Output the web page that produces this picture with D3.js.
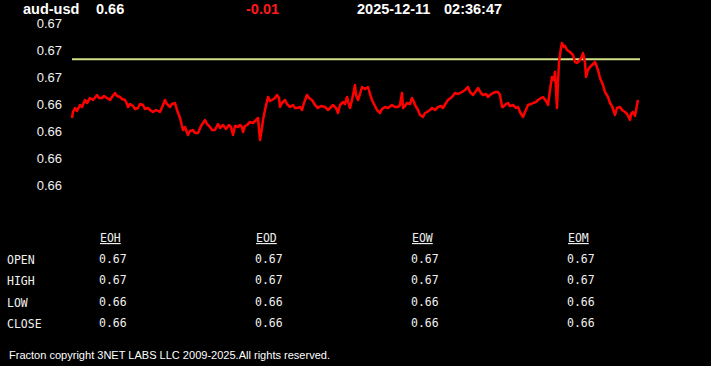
<!DOCTYPE html>
<html>
<head>
<meta charset="utf-8">
<script src="https://cdn.jsdelivr.net/npm/d3@7"></script>
<style>
  html, body { margin: 0; padding: 0; background: #000; }
  svg { display: block; }
</style>
</head>
<body>
<div id="vis"></div>
<script>
const FRAME_WIDTH = 711;
const FRAME_HEIGHT = 366;

// header
const SYMBOL = "aud-usd";
const LAST = "0.66";
const CHANGE = "-0.01";
const STAMP_DATE = "2025-12-11";
const STAMP_TIME = "02:36:47";

// y axis ticks (labels are rounded to 2 decimals)
const Y_TICKS = [0.6685, 0.66715, 0.6658, 0.66445, 0.6631, 0.66175, 0.6604];

// price series (sample number, price)
const SAMPLE_IDX = [0,1,3,5,8,10,13,15,18,21,25,27,30,32,35,38,40,43,45,48,50,53,55,56,58,61,63,66,68,71,73,76,78,81,84,88,91,93,95,98,100,103,105,108,110,111,113,116,118,121,123,126,129,133,135,138,140,143,146,148,151,154,157,159,161,163,166,168,170,171,173,175,178,181,183,186,188,190,191,193,196,198,200,203,205,207,208,210,213,215,218,221,223,225,228,230,232,235,237,240,243,246,249,253,256,258,261,264,266,268,271,273,275,277,278,280,283,284,286,288,290,293,296,298,300,303,305,308,310,313,316,320,323,326,328,330,331,333,335,338,340,342,343,346,348,351,353,355,358,360,363,366,369,371,374,376,380,383,386,390,393,396,398,401,404,406,409,411,414,416,418,421,424,426,428,430,431,434,436,438,441,444,446,448,451,453,456,459,461,464,466,469,471,474,476,478,480,482,483,485,486,487,489,490,492,493,495,498,501,503,505,508,510,511,513,514,516,518,520,523,526,528,531,533,536,538,540,543,545,548,550,553,555,558,559,561,563,565,566];
const PRICES = [0.6637,0.6640,0.6642,0.66405,0.66435,0.66425,0.6646,0.66445,0.6647,0.6646,0.66485,0.6647,0.6647,0.6648,0.6647,0.6646,0.66475,0.66495,0.6648,0.66475,0.66465,0.6646,0.6644,0.66425,0.6644,0.6643,0.66415,0.6642,0.6644,0.66435,0.66415,0.6642,0.6641,0.6640,0.6641,0.6640,0.66435,0.6646,0.6644,0.66425,0.6644,0.66445,0.6641,0.6637,0.6633,0.6631,0.66325,0.66285,0.66305,0.6631,0.66295,0.66295,0.6633,0.6636,0.6634,0.66325,0.6631,0.6631,0.6634,0.6632,0.66335,0.66315,0.66335,0.66325,0.66285,0.6633,0.66325,0.66335,0.66325,0.6630,0.6633,0.66335,0.6635,0.66345,0.66355,0.6637,0.6626,0.6632,0.6636,0.6641,0.66475,0.66455,0.6646,0.6647,0.66485,0.6647,0.66425,0.66445,0.6646,0.6644,0.66425,0.66435,0.6642,0.6642,0.66425,0.6641,0.66445,0.66485,0.6647,0.6646,0.66435,0.6642,0.6643,0.66425,0.6641,0.6642,0.66435,0.6642,0.66395,0.66435,0.6645,0.6644,0.66475,0.66435,0.6642,0.6646,0.66535,0.66485,0.6646,0.6649,0.66525,0.66515,0.66525,0.6649,0.6646,0.6643,0.6641,0.66395,0.66415,0.66425,0.6642,0.66435,0.66425,0.66425,0.66435,0.66495,0.6642,0.6643,0.66445,0.6644,0.6647,0.6645,0.66435,0.6641,0.66385,0.66375,0.66395,0.6640,0.6641,0.6642,0.6641,0.66425,0.6643,0.6642,0.66445,0.6646,0.66475,0.66495,0.6649,0.6650,0.6651,0.66525,0.6650,0.66485,0.66505,0.6652,0.66495,0.66485,0.6649,0.66475,0.66485,0.66495,0.6650,0.6650,0.66485,0.66425,0.66425,0.6644,0.66445,0.6643,0.66435,0.6642,0.66425,0.6640,0.66375,0.6640,0.66435,0.6644,0.66445,0.6645,0.6646,0.6647,0.66475,0.66455,0.66435,0.6651,0.66575,0.6656,0.6660,0.6642,0.6655,0.6665,0.6672,0.66745,0.66725,0.6673,0.6671,0.6670,0.66685,0.6665,0.66645,0.6666,0.6668,0.66695,0.6665,0.66575,0.6661,0.66625,0.66635,0.6665,0.6661,0.6657,0.66535,0.6650,0.66475,0.66445,0.6643,0.66385,0.6642,0.66425,0.6641,0.6640,0.6639,0.6636,0.6639,0.6640,0.6638,0.66435,0.6646];

// reference level (yellow line)
const REF_LEVEL = 0.66664;

// stats table
const TABLE_COLS = ["EOH", "EOD", "EOW", "EOM"];
const TABLE_ROWS = ["OPEN", "HIGH", "LOW", "CLOSE"];
const TABLE_VALUES = [
  ["0.67", "0.67", "0.67", "0.67"],
  ["0.67", "0.67", "0.67", "0.67"],
  ["0.66", "0.66", "0.66", "0.66"],
  ["0.66", "0.66", "0.66", "0.66"]
];

const FOOTER = "Fracton copyright 3NET LABS LLC 2009-2025.All rights reserved.";

const FRAME = d3.select("#vis")
  .append("svg")
    .attr("width", FRAME_WIDTH)
    .attr("height", FRAME_HEIGHT)
    .style("background", "#000");

const X_SCALE = d3.scaleLinear()
  .domain([0, 566])
  .range([72, 638]);

const Y_SCALE = d3.scaleLinear()
  .domain([0.6604, 0.6685])
  .range([184, 22]);

// header line
const HEAD = FRAME.append("g")
  .attr("font-family", "Arial, 'Liberation Sans', sans-serif")
  .attr("font-weight", "bold")
  .attr("font-size", "14.5px");
HEAD.append("text").attr("x", 23).attr("y", 13.5).attr("fill", "#fff").text(SYMBOL);
HEAD.append("text").attr("x", 96).attr("y", 13.5).attr("fill", "#fff").text(LAST);
HEAD.append("text").attr("x", 246).attr("y", 13.5).attr("fill", "#ff1a1a").text(CHANGE);
HEAD.append("text").attr("x", 357).attr("y", 13.5).attr("fill", "#fff").text(STAMP_DATE);
HEAD.append("text").attr("x", 444).attr("y", 13.5).attr("fill", "#fff").text(STAMP_TIME);

// y axis labels
const yAxis = FRAME.append("g")
  .attr("transform", "translate(62,1)")
  .call(d3.axisLeft(Y_SCALE).tickValues(Y_TICKS).tickSize(0).tickPadding(0)
    .tickFormat((d) => d.toFixed(2)));
yAxis.select(".domain").remove();
yAxis.selectAll("text")
  .attr("fill", "#f0f0f0")
  .attr("font-family", "Arial, 'Liberation Sans', sans-serif")
  .attr("font-size", "13px");

// reference line
FRAME.append("line")
  .attr("x1", X_SCALE(0))
  .attr("x2", X_SCALE(568))
  .attr("y1", Y_SCALE(REF_LEVEL))
  .attr("y2", Y_SCALE(REF_LEVEL))
  .attr("stroke", "#d2e085")
  .attr("stroke-width", 2);

// price line
const series = SAMPLE_IDX.map((d, i) => ({ x: d, y: PRICES[i] }));
FRAME.append("path")
  .datum(series)
  .attr("fill", "none")
  .attr("stroke", "#ff0000")
  .attr("stroke-width", 2.5)
  .attr("stroke-linejoin", "round")
  .attr("d", d3.line()
    .x((d) => X_SCALE(d.x))
    .y((d) => Y_SCALE(d.y)));

// table
const COL_X = [99, 255, 411, 567];
const ROW_Y = [264, 285, 307, 328];
const TABLE = FRAME.append("g")
  .attr("font-family", "'DejaVu Sans Mono', 'Liberation Mono', monospace")
  .attr("font-size", "11.5px")
  .attr("fill", "#f0f0f0");

TABLE.selectAll(".colhead")
  .data(TABLE_COLS)
  .enter()
  .append("text")
    .attr("x", (d, i) => COL_X[i] + 1)
    .attr("y", 242)
    .attr("text-decoration", "underline")
    .text((d) => d);

TABLE.selectAll(".rowhead")
  .data(TABLE_ROWS)
  .enter()
  .append("text")
    .attr("x", 7)
    .attr("y", (d, i) => ROW_Y[i])
    .text((d) => d);

TABLE_VALUES.forEach((row, r) => {
  TABLE.selectAll(".val" + r)
    .data(row)
    .enter()
    .append("text")
      .attr("x", (d, i) => COL_X[i])
      .attr("y", ROW_Y[r] - 1.5)
      .text((d) => d);
});

// footer
FRAME.append("text")
  .attr("x", 9)
  .attr("y", 359)
  .attr("fill", "#fff")
  .attr("font-family", "Arial, 'Liberation Sans', sans-serif")
  .attr("font-size", "11px")
  .attr("textLength", 321)
  .attr("lengthAdjust", "spacingAndGlyphs")
  .text(FOOTER);
</script>
</body>
</html>
